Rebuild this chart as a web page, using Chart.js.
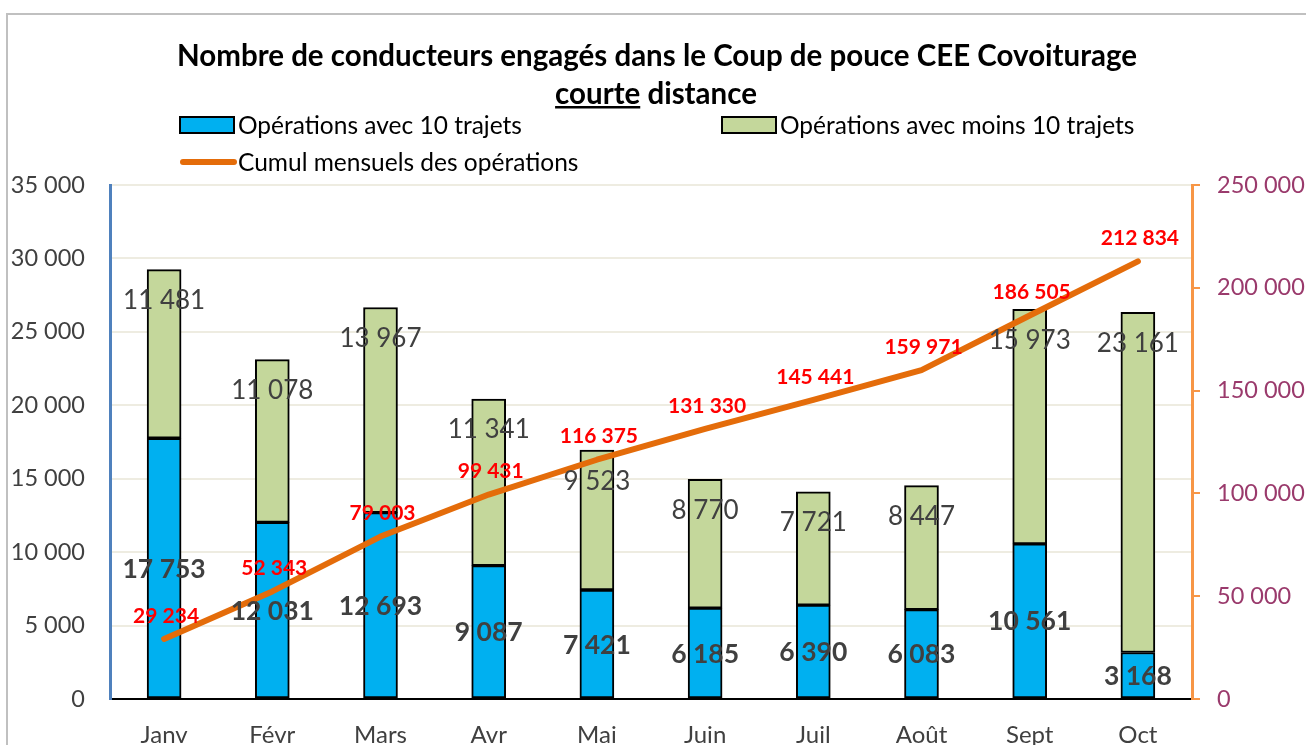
<!DOCTYPE html>
<html>
<head>
<meta charset="utf-8">
<script src="https://cdn.jsdelivr.net/npm/chart.js@4.4.1/dist/chart.umd.min.js"></script>
<style>
    html, body { margin: 0; padding: 0; background: #fff; }
    #wrap { width: 1306px; height: 745px; }
</style>
</head>
<body>
<div id="wrap"><canvas id="chart" width="1306" height="745"></canvas></div>
<script>
const months = ['Janv', 'Févr', 'Mars', 'Avr', 'Mai', 'Juin', 'Juil', 'Août', 'Sept', 'Oct'];
const avec10 = [17753, 12031, 12693, 9087, 7421, 6185, 6390, 6083, 10561, 3168];
const moins10 = [11481, 11078, 13967, 11341, 9523, 8770, 7721, 8447, 15973, 23161];
const cumul = [29234, 52343, 79003, 99431, 116375, 131330, 145441, 159971, 186505, 212834];

const FONT = 'Lato, "Open Sans", sans-serif';

function fmt(v) {
    return String(v).replace(/\B(?=(\d{3})+(?!\d))/g, ' ');
}

// frame, title and legend (Excel style)
const decorPlugin = {
    id: 'decor',
    beforeDraw(chart) {
        const c = chart.ctx;
        c.save();
        c.strokeStyle = '#c0c0c0';
        c.lineWidth = 2;
        c.beginPath();
        c.moveTo(7, 745);
        c.lineTo(7, 14);
        c.lineTo(1306, 14);
        c.stroke();
        c.restore();
    },
    afterDraw(chart) {
        const c = chart.ctx;
        c.save();
        c.fillStyle = '#000';
        c.font = 'bold 29.5px ' + FONT;
        c.textAlign = 'center';
        c.textBaseline = 'middle';
        c.fillText('Nombre de conducteurs engagés dans le Coup de pouce CEE Covoiturage', 657, 56);

        const w1 = c.measureText('courte').width;
        const w2 = c.measureText(' distance').width;
        const x0 = 656 - (w1 + w2) / 2;
        c.textAlign = 'left';
        c.fillText('courte', x0, 94);
        c.fillText(' distance', x0 + w1, 94);
        c.fillRect(x0, 106, w1, 2.5);

        const ds = chart.data.datasets;
        c.font = '24.5px ' + FONT;
        c.fillStyle = '#000';
        const items = [
            { i: 0, x: 180, y: 125 },
            { i: 1, x: 722, y: 125 },
            { i: 2, x: 180, y: 162 }
        ];
        items.forEach(it => {
            const d = ds[it.i];
            if (d.type === 'line') {
                c.strokeStyle = d.borderColor;
                c.lineWidth = 6;
                c.lineCap = 'round';
                c.beginPath();
                c.moveTo(it.x + 3, it.y);
                c.lineTo(it.x + 54, it.y);
                c.stroke();
            } else {
                c.fillStyle = d.backgroundColor;
                c.fillRect(it.x, it.y - 8, 54, 16);
                c.strokeStyle = '#000';
                c.lineWidth = 2;
                c.strokeRect(it.x, it.y - 8, 54, 16);
            }
            c.fillStyle = '#000';
            c.fillText(d.label, it.x + 58, it.y + 1);
        });
        c.restore();
    }
};

// value labels
const labelPlugin = {
    id: 'valueLabels',
    afterDatasetsDraw(chart) {
        const c = chart.ctx;
        c.save();
        c.textAlign = 'center';
        c.textBaseline = 'middle';

        const m0 = chart.getDatasetMeta(0);
        c.font = 'bold 26.5px ' + FONT;
        c.fillStyle = '#404040';
        m0.data.forEach((bar, i) => {
            c.fillText(fmt(avec10[i]), bar.x, (bar.y + bar.base) / 2 + 1);
        });

        const m1 = chart.getDatasetMeta(1);
        c.font = '26px ' + FONT;
        m1.data.forEach((bar, i) => {
            c.fillText(fmt(moins10[i]), bar.x, bar.y + 31);
        });

        const m2 = chart.getDatasetMeta(2);
        c.font = 'bold 21px ' + FONT;
        c.fillStyle = '#ff0000';
        m2.data.forEach((pt, i) => {
            c.fillText(fmt(cumul[i]), pt.x + 2, pt.y - 23);
        });
        c.restore();
    }
};

const ctx = document
    .getElementById('chart')
    .getContext('2d');

const chart = new Chart(ctx, {
    type: 'bar',
    data: {
        labels: months,
        datasets: [{
            label: 'Opérations avec 10 trajets',
            data: avec10,
            backgroundColor: '#00b0f0',
            borderColor: '#000',
            borderWidth: 2,
            borderSkipped: false,
            barThickness: 34,
            stack: 's',
            yAxisID: 'y',
            order: 2
        }, {
            label: 'Opérations avec moins 10 trajets',
            data: moins10,
            backgroundColor: '#c4d79b',
            borderColor: '#000',
            borderWidth: 2,
            borderSkipped: false,
            barThickness: 34,
            stack: 's',
            yAxisID: 'y',
            order: 2
        }, {
            type: 'line',
            label: 'Cumul mensuels des opérations',
            data: cumul,
            borderColor: '#e46c0a',
            borderWidth: 6,
            borderCapStyle: 'round',
            borderJoinStyle: 'round',
            pointRadius: 0,
            tension: 0,
            yAxisID: 'y1',
            order: 1
        }]
    },
    options: {
        responsive: false,
        animation: false,
        layout: {
            padding: { top: 185, left: 0, right: 0, bottom: 0 }
        },
        plugins: {
            legend: { display: false },
            title: { display: false },
            tooltip: { enabled: false }
        },
        scales: {
            x: {
                stacked: true,
                afterFit: s => { s.height = 46; },
                grid: { display: false, drawTicks: false },
                border: { color: '#000', width: 2 },
                ticks: {
                    padding: 22,
                    color: '#404040',
                    font: { family: FONT, size: 24 }
                }
            },
            y: {
                stacked: true,
                position: 'left',
                min: 0,
                max: 35000,
                afterFit: s => { s.width = 110; },
                grid: { color: '#eeece1', lineWidth: 2, drawTicks: false },
                border: { color: '#4f81bd', width: 3 },
                ticks: {
                    stepSize: 5000,
                    padding: 25,
                    color: '#404040',
                    font: { family: FONT, size: 23.5 },
                    callback: v => fmt(v)
                }
            },
            y1: {
                position: 'right',
                min: 0,
                max: 250000,
                afterFit: s => { s.width = 114; },
                grid: {
                    drawOnChartArea: false,
                    drawTicks: true,
                    tickLength: 8,
                    color: '#f79646',
                    lineWidth: 2
                },
                border: { color: '#f79646', width: 3 },
                ticks: {
                    stepSize: 50000,
                    padding: 17,
                    color: '#9a3a6c',
                    font: { family: FONT, size: 23.5 },
                    callback: v => fmt(v)
                }
            }
        }
    },
    plugins: [decorPlugin, labelPlugin]
});
</script>
</body>
</html>
